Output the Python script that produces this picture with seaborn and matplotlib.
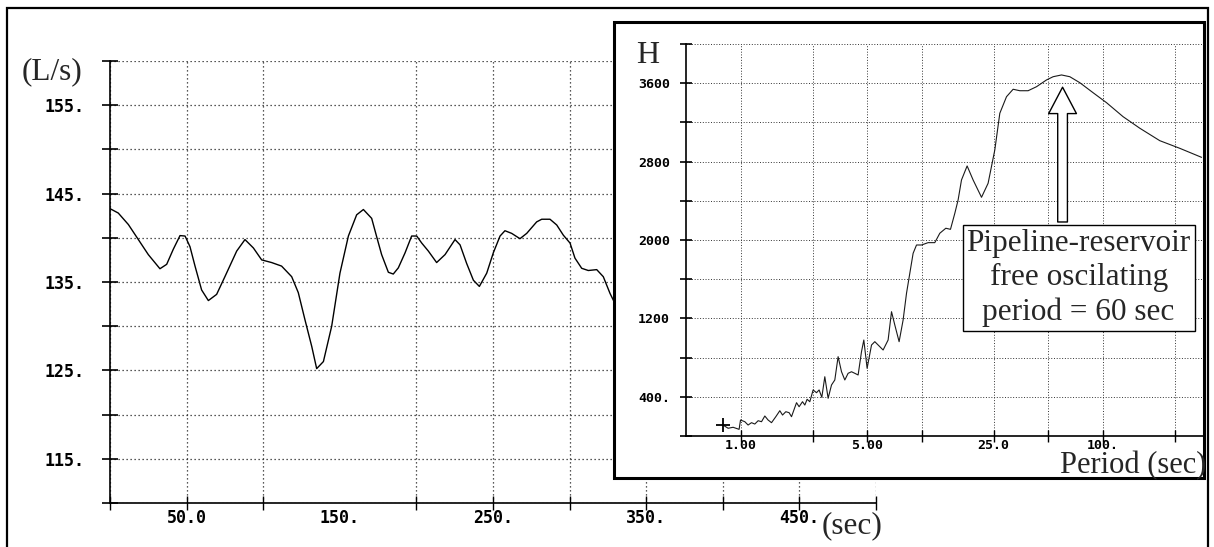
import numpy as np
import pandas as pd
import matplotlib
matplotlib.use("Agg")
import matplotlib.pyplot as plt
import seaborn as sns
from matplotlib.patches import Rectangle, FancyArrowPatch
from matplotlib.ticker import FixedLocator, FixedFormatter, NullLocator

# ---------------- data ----------------
time_s = [0, 5.4, 12, 18.5, 25, 32.6, 37, 41.3, 45.7, 49, 52.2, 55.5, 59.8, 64.2, 69.6,
          75, 82.7, 88.1, 93.6, 99, 105.5, 112, 118.6, 122.9, 127.3, 131.7, 134.9, 139.3,
          144.7, 150.1, 155.6, 161, 165.4, 170.8, 174.1, 177.3, 181.7, 184.9, 188.2, 192.6,
          196.9, 200.2, 203.5, 207.8, 213.2, 218.7, 225.2, 228.5, 232.8, 237.2, 241.1, 245.9,
          250.2, 254.6, 257.8, 262.2, 267.6, 272, 278.5, 281.8, 287.2, 291.6, 295.9, 300.3,
          303.5, 307.9, 312.2, 317.7, 322, 326.4, 331.8]
flow_ls = [143.3, 142.8, 141.5, 139.8, 138.1, 136.5, 137.0, 138.7, 140.25, 140.2, 139.0,
           136.8, 134.1, 132.9, 133.6, 135.6, 138.5, 139.8, 138.85, 137.5, 137.2, 136.8,
           135.6, 133.8, 130.7, 127.7, 125.2, 126.0, 130.0, 136.0, 140.2, 142.6, 143.2,
           142.2, 140.1, 138.1, 136.1, 135.9, 136.6, 138.3, 140.2, 140.2, 139.4, 138.5,
           137.2, 138.1, 139.8, 139.2, 137.1, 135.2, 134.5, 136.0, 138.3, 140.2, 140.8,
           140.5, 139.9, 140.5, 141.8, 142.1, 142.1, 141.45, 140.3, 139.4, 137.7, 136.55,
           136.3, 136.4, 135.6, 133.7, 131.8]

period_s = [0.80, 0.854, 0.910, 0.982, 1.0, 1.056, 1.101, 1.150, 1.199, 1.251, 1.306, 1.362,
            1.420, 1.483, 1.566, 1.648, 1.706, 1.779, 1.855, 1.912, 2.038, 2.106, 2.199,
            2.265, 2.332, 2.413, 2.517, 2.628, 2.716, 2.811, 2.920, 3.046, 3.180, 3.316,
            3.458, 3.611, 3.766, 3.927, 4.100, 4.276, 4.460, 4.656, 4.795, 5.0, 5.288,
            5.514, 6.128, 6.530, 6.819, 7.111, 7.510, 7.902, 8.251, 8.604, 8.974, 9.370,
            9.984, 10.86, 11.82, 12.60, 13.60, 14.43, 15.25, 15.90, 16.60, 17.83, 19.24,
            21.41, 23.28, 25.35, 27.02, 29.42, 32.0, 34.84, 38.71, 43.08, 48.92, 53.21,
            59.20, 65.8, 74.7, 88.4, 104.9, 129.5, 160.2, 206.5, 266.3, 351.2]
spectrum_h = [111, 78, 88, 67, 162, 145, 111, 135, 121, 155, 145, 203, 162, 135, 196, 257,
              213, 247, 237, 196, 339, 298, 349, 315, 374, 349, 469, 441, 469, 394, 604,
              384, 520, 571, 809, 655, 571, 639, 655, 639, 622, 860, 979, 690, 928, 962,
              877, 979, 1268, 1132, 962, 1183, 1456, 1660, 1864, 1949, 1949, 1973, 1973,
              2069, 2120, 2109, 2273, 2409, 2613, 2756, 2613, 2436, 2579, 2919, 3294, 3463,
              3539, 3524, 3524, 3565, 3634, 3667, 3685, 3667, 3606, 3504, 3402, 3259, 3141,
              3014, 2936, 2844]

main_xticks = [0, 50, 100, 150, 200, 250, 300, 350, 400, 450, 500]
main_xlabels = ['', '50.0', '', '150.', '', '250.', '', '350.', '', '450.', '']
main_yticks = [110, 115, 120, 125, 130, 135, 140, 145, 150, 155, 160]
main_ylabels = ['', '115.', '', '125.', '', '135.', '', '145.', '', '155.', '']
inset_xticks = [1, 2.5, 5, 10, 25, 50, 100, 250]
inset_xlabels = ['1.00', '', '5.00', '', '25.0', '', '100.', '']
inset_yticks = [0, 400, 800, 1200, 1600, 2000, 2400, 2800, 3200, 3600, 4000]
inset_ylabels = ['', '400.', '', '1200', '', '2000', '', '2800', '', '3600', '']

annotation_text = "Pipeline-reservoir\nfree oscilating\nperiod = 60 sec"
peak_period = 60

# ---------------- style ----------------
sns.set_style("white")
plt.rcParams['font.family'] = ['DejaVu Sans Mono', 'DejaVu Sans']
plt.rcParams['font.weight'] = 'bold'

W, H = 1214, 547
fig = plt.figure(figsize=(W / 100, H / 100), dpi=100)
fig.patch.set_facecolor('white')

SERIF = ['Liberation Serif', 'DejaVu Serif']

# ---------------- main axes ----------------
ax = fig.add_axes([110 / W, 1 - 503 / H, 766 / W, 442 / H])
ax.set_zorder(0)
sns.lineplot(x=time_s, y=flow_ls, ax=ax, color='black', linewidth=1.0,
             estimator=None, sort=False)
ax.set_xlim(0, 500)
ax.set_ylim(110, 160)
ax.xaxis.set_major_locator(FixedLocator(main_xticks))
ax.xaxis.set_major_formatter(FixedFormatter(main_xlabels))
ax.yaxis.set_major_locator(FixedLocator(main_yticks))
ax.yaxis.set_major_formatter(FixedFormatter(main_ylabels))
for s in ['top', 'right']:
    ax.spines[s].set_visible(False)
for s in ['left', 'bottom']:
    ax.spines[s].set_linewidth(1.2)
    ax.spines[s].set_color('black')
ax.tick_params(axis='y', direction='inout', length=12, width=1.2, pad=12,
               labelsize=12, colors='black', left=True)
ax.tick_params(axis='x', direction='inout', length=10, width=1.0, pad=-1,
               labelsize=12, colors='black', bottom=True)
ax.grid(True, which='major', linestyle=(0, (1, 2.2)), linewidth=0.9, color='#222')
# the 150 s grid line / tick are absent in the original
t150 = ax.xaxis.get_major_ticks()[3]
t150.gridline.set_visible(False)
t150.tick1line.set_visible(False)
ax.set_xlabel('')
ax.set_ylabel('')

# ---------------- inset frame ----------------
fig.add_artist(Rectangle((614 / W, 1 - 478 / H), 590 / W, 456 / H,
                         transform=fig.transFigure, facecolor='white',
                         edgecolor='black', linewidth=2.2, zorder=1))

# ---------------- inset axes ----------------
ax_in = fig.add_axes([686 / W, 1 - 435.9 / H, 517.5 / W, 391.8 / H])
ax_in.set_zorder(2)
ax_in.patch.set_alpha(0)
ax_in.set_xscale('log')
ax_in.set_xlim(0.5, 360)
ax_in.set_ylim(0, 4000)
sns.lineplot(x=period_s, y=spectrum_h, ax=ax_in, color='#1a1a1a', linewidth=0.8,
             estimator=None, sort=False)
ax_in.plot(period_s[:1], spectrum_h[:1], marker='+', markersize=10,
           markeredgewidth=1.3, color='black', linestyle='none')
ax_in.xaxis.set_major_locator(FixedLocator(inset_xticks))
ax_in.xaxis.set_major_formatter(FixedFormatter(inset_xlabels))
ax_in.xaxis.set_minor_locator(NullLocator())
ax_in.yaxis.set_major_locator(FixedLocator(inset_yticks))
ax_in.yaxis.set_major_formatter(FixedFormatter(inset_ylabels))
for s in ['top', 'right']:
    ax_in.spines[s].set_visible(False)
for s in ['left', 'bottom']:
    ax_in.spines[s].set_linewidth(1.2)
    ax_in.spines[s].set_color('black')
ax_in.tick_params(axis='y', direction='inout', length=9, width=1.2, pad=7,
                  labelsize=9.5, colors='black', left=True)
ax_in.tick_params(axis='x', direction='inout', length=8, width=1.0, pad=-1.5,
                  labelsize=9.5, colors='black', bottom=True)
ax_in.grid(True, which='major', linestyle=(0, (1, 1.8)), linewidth=0.7, color='#333')
ax_in.set_xlabel('')
ax_in.set_ylabel('')

# arrow + annotation box
arrow = FancyArrowPatch((peak_period, 2184), (peak_period, 3560),
                        arrowstyle='simple,head_length=19,head_width=20,tail_width=7',
                        mutation_scale=1, facecolor='white', edgecolor='black',
                        linewidth=1.0, shrinkA=0, shrinkB=0, zorder=4)
ax_in.add_patch(arrow)
ax_in.text(73.6, 1612, annotation_text, ha='center', va='center',
           fontfamily=SERIF, fontweight='normal', fontsize=22.5, linespacing=1.25,
           zorder=5, bbox=dict(boxstyle='square,pad=0.12', facecolor='white',
                               edgecolor='black', linewidth=1.0))

# ---------------- figure texts ----------------
fig.text(52 / W, 1 - 79 / H, '(L/s)', ha='center', va='baseline',
         fontfamily=SERIF, fontweight='normal', fontsize=22.5, zorder=3)
fig.text(852 / W, 1 - 533 / H, '(sec)', ha='center', va='baseline',
         fontfamily=SERIF, fontweight='normal', fontsize=22.5, zorder=3)
fig.text(648 / W, 1 - 63.3 / H, 'H', ha='center', va='baseline',
         fontfamily=SERIF, fontweight='normal', fontsize=23, zorder=3)
fig.text(1206 / W, 1 - 473 / H, 'Period (sec)', ha='right', va='baseline',
         fontfamily=SERIF, fontweight='normal', fontsize=22, zorder=3)

# outer frame
fig.add_artist(Rectangle((7 / W, -0.02), 1201 / W, 1.02 - 8 / H,
                         transform=fig.transFigure, fill=False,
                         edgecolor='black', linewidth=1.6, zorder=10, clip_on=False))

fig.savefig('out.png', dpi=100)
